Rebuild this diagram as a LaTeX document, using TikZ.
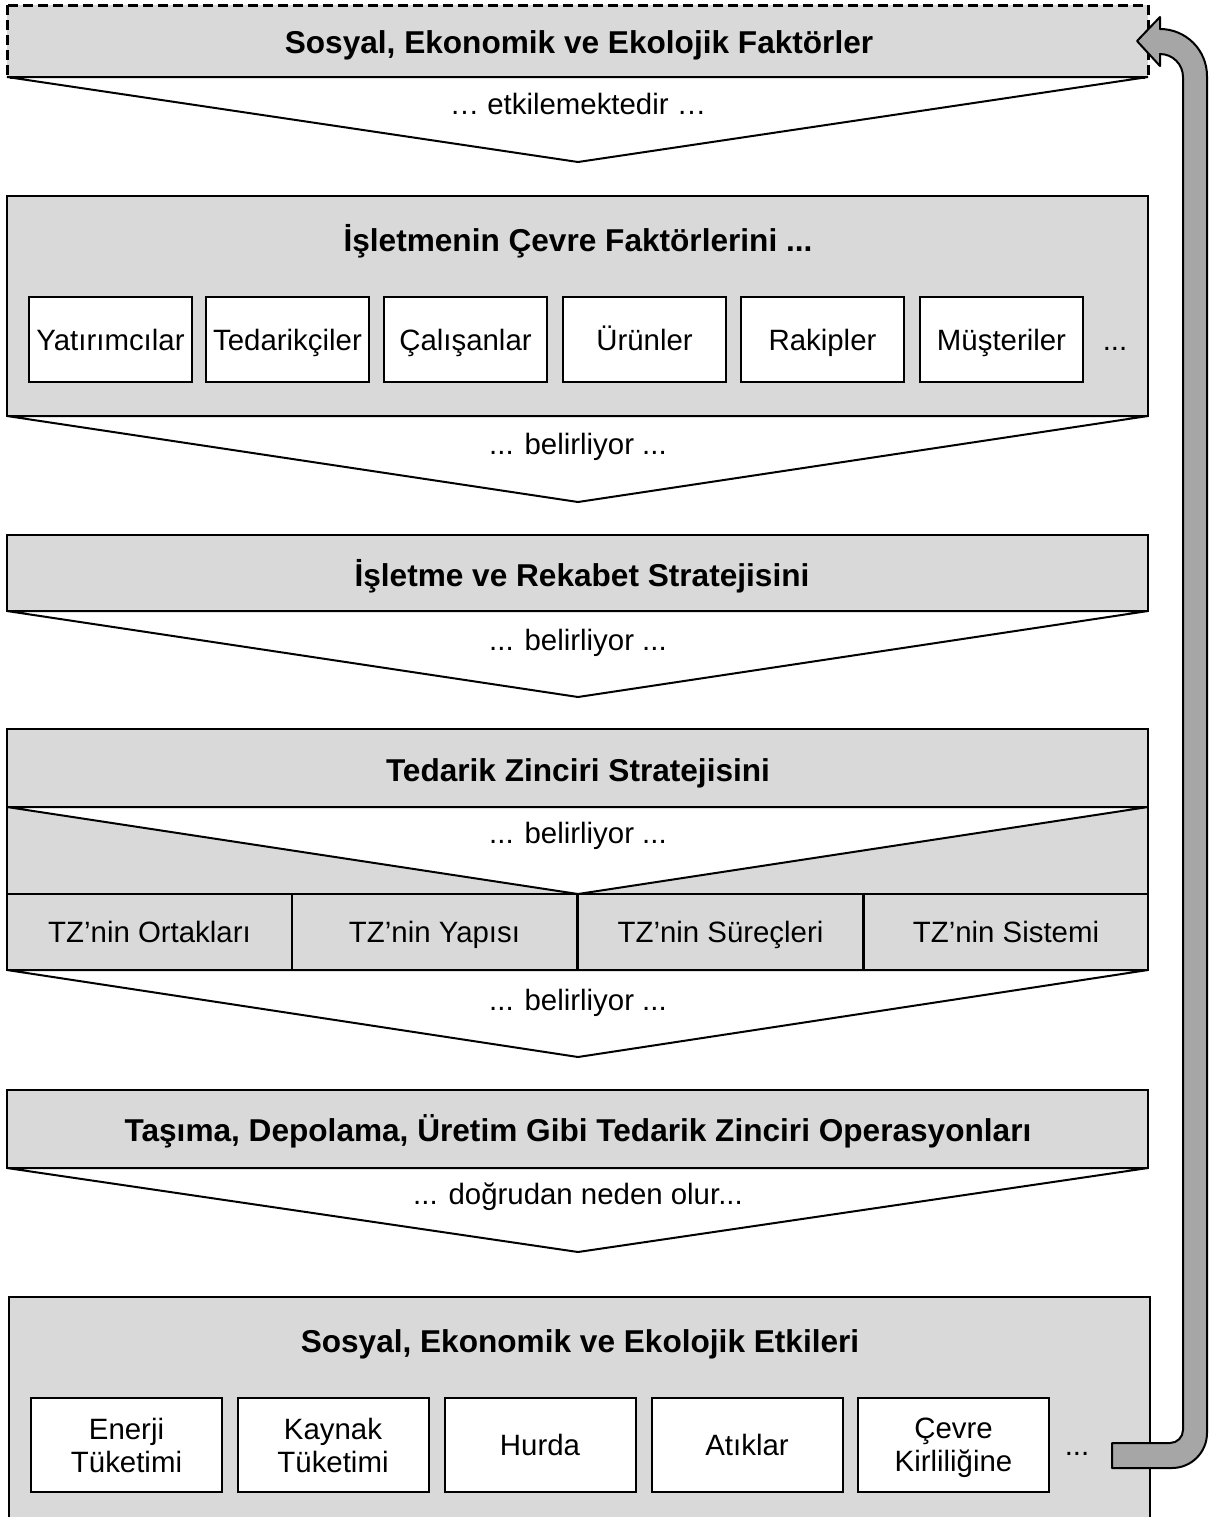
\documentclass[tikz,border=0pt]{standalone}
\usepackage{fontspec}
\setmainfont{Liberation Sans}
\definecolor{boxgray}{HTML}{D9D9D9}
\definecolor{arrowgray}{HTML}{A6A6A6}
\newcommand\lblfont{\fontsize{14.7}{16.5}\selectfont}
\newcommand\ttlfont{\fontsize{15.8}{18}\selectfont\bfseries}
\begin{document}
\begin{tikzpicture}[x=0.5pt,y=-0.5pt,
  panel/.style={fill=boxgray,draw=black,line width=1pt},
  wedge/.style={fill=white,draw=black,line width=1pt,line join=miter},
  ttl/.style={inner sep=0pt,font=\ttlfont,text height=11.3pt,text depth=0pt},
  lbl/.style={inner sep=0pt,font=\lblfont,text height=10.5pt,text depth=0pt},
  framed/.style={draw=black,fill=white,line width=1pt,inner sep=0pt,
    font=\lblfont,align=center},
  item/.style={framed,text height=10.5pt,text depth=0pt,
    minimum width=81.5pt,minimum height=42.5pt},
  bigitem/.style={framed,text height=10.5pt,text depth=0pt,
    minimum width=95.5pt,minimum height=47pt},
  twoline/.style={framed,text depth=0pt,
    minimum width=95.5pt,minimum height=47pt},
  cell/.style={panel,inner sep=0pt,font=\lblfont,text height=10.5pt,text depth=0pt,
    minimum width=142.5pt,minimum height=38pt},
  feedback/.style={fill=arrowgray,draw=black,line width=1pt,line join=round}
]
\clip (0,0) rectangle (1211,1517);

% --- level 1: outer factors (dashed)
\draw[fill=boxgray,draw=black,line width=1.5pt,dash pattern=on 5pt off 2.5pt]
  (7,5) rectangle (1148,77);
\node[ttl] (f1) at (579,42) {Sosyal, Ekonomik ve Ekolojik Faktörler};
\draw[wedge] (7,77) -- (578,162) -- (1148,77) -- cycle;
\node[lbl] (v1) at (578,104) {… etkilemektedir …};

% --- level 2: environment factors
\draw[panel] (7,196) rectangle (1148,416);
\node[ttl] (f2) at (578,240) {İşletmenin Çevre Faktörlerini ...};
\node[item] (e1) at (110.5,339.5) {Yatırımcılar};
\node[item] (e2) at (287.5,339.5) {Tedarikçiler};
\node[item] (e3) at (465.5,339.5) {Çalışanlar};
\node[item] (e4) at (644.5,339.5) {Ürünler};
\node[item] (e5) at (822.5,339.5) {Rakipler};
\node[item] (e6) at (1001.5,339.5) {Müşteriler};
\node[lbl] (e7) at (1115,339.5) {...};
\draw[wedge] (7,416) -- (578,502) -- (1148,416) -- cycle;
\node[lbl] (v2) at (578,444) {... belirliyor ...};

% --- level 3: business strategy
\draw[panel] (7,535) rectangle (1148,611);
\node[ttl] (f3) at (582,575) {İşletme ve Rekabet Stratejisini};
\draw[wedge] (7,611) -- (578,697) -- (1148,611) -- cycle;
\node[lbl] (v3) at (578,640) {... belirliyor ...};

% --- level 4: supply chain strategy
\draw[panel] (7,729) rectangle (1148,807);
\node[ttl] (f4) at (578,770) {Tedarik Zinciri Stratejisini};
\draw[panel] (7,807) rectangle (1148,894);
\draw[wedge] (7,807) -- (578,894) -- (1148,807) -- cycle;
\node[lbl] (v4) at (578,833) {... belirliyor ...};
\node[cell] (c1) at (149.5,932) {TZ’nin Ortakları};
\node[cell] (c2) at (434.5,932) {TZ’nin Yapısı};
\node[cell] (c3) at (720.5,932) {TZ’nin Süreçleri};
\node[cell,minimum width=142pt] (c4) at (1006,932) {TZ’nin Sistemi};
\draw[wedge] (7,970) -- (578,1057) -- (1148,970) -- cycle;
\node[lbl] (v5) at (578,1000) {... belirliyor ...};

% --- level 5: operations
\draw[panel] (7,1090) rectangle (1148,1168);
\node[ttl] (f5) at (578,1130) {Taşıma, Depolama, Üretim Gibi Tedarik Zinciri Operasyonları};
\draw[wedge] (7,1168) -- (578,1252) -- (1148,1168) -- cycle;
\node[lbl] (v6) at (578,1194) {... doğrudan neden olur...};

% --- level 6: impacts
\draw[panel] (9,1297) rectangle (1150,1530);
\node[ttl] (f6) at (580,1341) {Sosyal, Ekonomik ve Ekolojik Etkileri};
\node[twoline] (i1) at (126.5,1445) {Enerji\\Tüketimi};
\node[twoline] (i2) at (333,1445) {Kaynak\\Tüketimi};
\node[bigitem] (i3) at (540,1445) {Hurda};
\node[bigitem] (i4) at (747,1445) {Atıklar};
\node[twoline] (i5) at (953.5,1445) {Çevre\\Kirliliğine};
\node[lbl] (i6) at (1077,1445) {...};

% --- feedback arrow from the impacts back to the outer factors
\coordinate (fbstart) at (1112,1455);
\coordinate (fbtip) at (1137,41);
\draw[feedback]
  (1112,1443) -- (1170,1443)
  arc[start angle=90,end angle=0,radius=13]
  -- (1183,77)
  arc[start angle=0,end angle=-90,radius=23]
  -- (1160,66) -- (fbtip) -- (1160,17) -- (1160,29)
  arc[start angle=270,end angle=360,radius=47]
  -- (1207,1433)
  arc[start angle=0,end angle=90,radius=35]
  -- (1112,1468) -- cycle;
\end{tikzpicture}
\end{document}
